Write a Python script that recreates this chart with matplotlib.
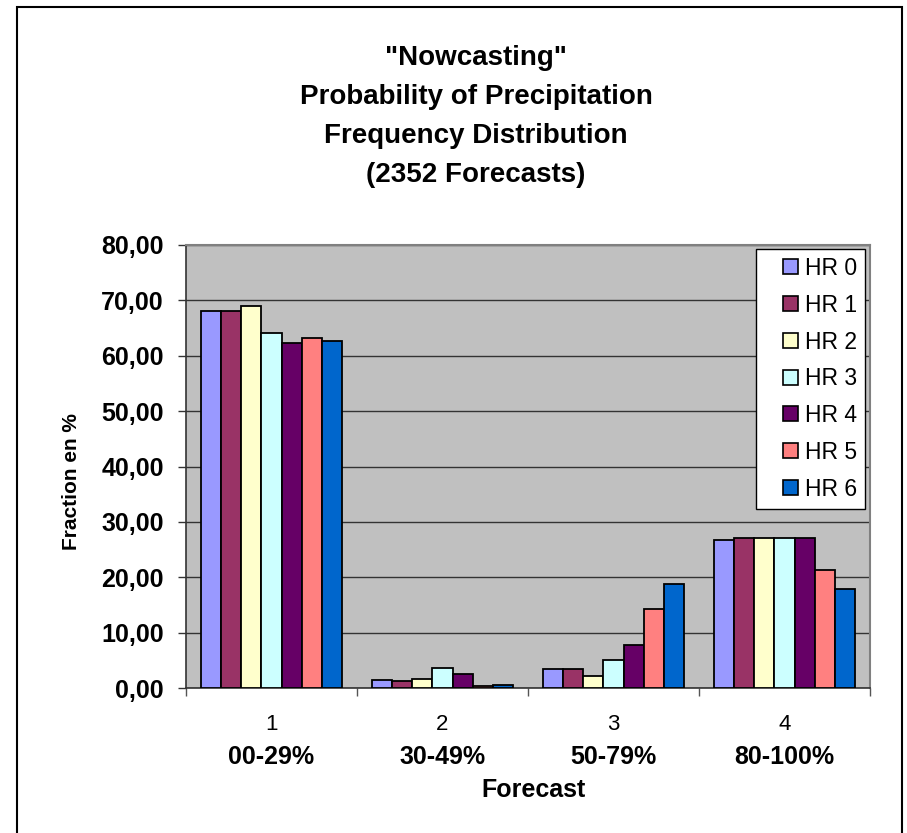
import matplotlib
matplotlib.use("Agg")
import matplotlib.pyplot as plt
from matplotlib.patches import Rectangle
from matplotlib.legend_handler import HandlerPatch
import numpy as np

plt.rcParams['font.family'] = ['Liberation Sans', 'DejaVu Sans']

categories = ["1", "2", "3", "4"]
ranges = ["00-29%", "30-49%", "50-79%", "80-100%"]
series = ["HR 0", "HR 1", "HR 2", "HR 3", "HR 4", "HR 5", "HR 6"]
hr0 = [68.1, 1.4, 3.4, 26.8]
hr1 = [68.1, 1.3, 3.4, 27.1]
hr2 = [69.0, 1.7, 2.2, 27.0]
hr3 = [64.1, 3.7, 5.1, 27.0]
hr4 = [62.3, 2.5, 7.7, 27.0]
hr5 = [63.2, 0.4, 14.3, 21.3]
hr6 = [62.6, 0.5, 18.7, 17.8]
values = [hr0, hr1, hr2, hr3, hr4, hr5, hr6]
colors = ["#9999FF", "#993366", "#FFFFCC", "#CCFFFF", "#660066", "#FF8080", "#0066CC"]
yticks = [0, 10, 20, 30, 40, 50, 60, 70, 80]
ytick_labels = ["0,00", "10,00", "20,00", "30,00", "40,00", "50,00", "60,00", "70,00", "80,00"]

fig = plt.figure(figsize=(9.07, 8.33), dpi=100)
fig.patches.append(Rectangle((17 / 907, -0.01), (902 - 17) / 907, 1.01 - 7 / 833,
                             transform=fig.transFigure, fill=False,
                             edgecolor="black", linewidth=1.5))

ax = fig.add_axes([186 / 907, 1 - 688 / 833, (870 - 186) / 907, (688 - 245) / 833])
ax.set_facecolor("#C0C0C0")

x = np.arange(len(categories))
n = len(series)
width = 0.823 / n
for i, (vals, c) in enumerate(zip(values, colors)):
    ax.bar(x + (i - (n - 1) / 2) * width, vals, width, color=c,
           edgecolor="black", linewidth=1.3, zorder=3)

ax.set_xlim(-0.5, len(categories) - 0.5)
ax.set_ylim(0, 80)
ax.set_yticks(yticks)
ax.set_yticklabels(ytick_labels, fontsize=18, fontweight="bold")
ax.yaxis.grid(True, color="#333333", linewidth=1.0, zorder=0)
ax.tick_params(axis="y", length=6, width=1, color="#333333", pad=10)

# category numbers as tick labels, boundary ticks as minor ticks
ax.set_xticks(x)
ax.set_xticklabels(categories, fontsize=16)
ax.tick_params(axis="x", which="major", length=0, pad=19)
ax.set_xticks(np.arange(-0.5, len(categories)), minor=True)
ax.tick_params(axis="x", which="minor", length=6, width=1, color="#555555")
for xi, r in zip(x, ranges):
    ax.text(xi, -0.156, r, transform=ax.get_xaxis_transform(), ha="center",
            va="center", fontsize=18, fontweight="bold")

ax.set_xlabel("Forecast", fontsize=18, fontweight="bold", va="center")
ax.xaxis.set_label_coords(0.508, -0.23)
ax.set_ylabel("Fraction en %", fontsize=15, fontweight="bold", va="center")
ax.yaxis.set_label_coords(-0.168, 0.467)

for side in ["left", "bottom"]:
    ax.spines[side].set_color("#333333")
    ax.spines[side].set_linewidth(1.2)
for side in ["top", "right"]:
    ax.spines[side].set_color("#808080")
    ax.spines[side].set_linewidth(1.5)


def square(legend, orig_handle, xdescent, ydescent, width, height, fontsize):
    s = 15 * 72 / 100
    return Rectangle((-xdescent + width - s, -ydescent + (height - s) / 2), s, s)


handles = [Rectangle((0, 0), 1, 1, facecolor=c, edgecolor="black", linewidth=1.2)
           for c in colors]
leg = ax.legend(handles, series, loc="upper right", bbox_to_anchor=(0.993, 0.991),
                fontsize=16.5, fancybox=False, framealpha=1, edgecolor="black",
                handlelength=1.45, handleheight=0.7, handletextpad=0.32,
                labelspacing=0.6, borderpad=0.35, borderaxespad=0,
                handler_map={Rectangle: HandlerPatch(patch_func=square)})
leg.get_frame().set_linewidth(1.0)

title_lines = ['"Nowcasting"', "Probability of Precipitation",
               "Frequency Distribution", "(2352 Forecasts)"]
for k, line in enumerate(title_lines):
    fig.text(476 / 907, 1 - (58 + k * 39) / 833, line, ha="center", va="center",
             fontsize=20, fontweight="bold")

fig.savefig("out.png", dpi=100)
